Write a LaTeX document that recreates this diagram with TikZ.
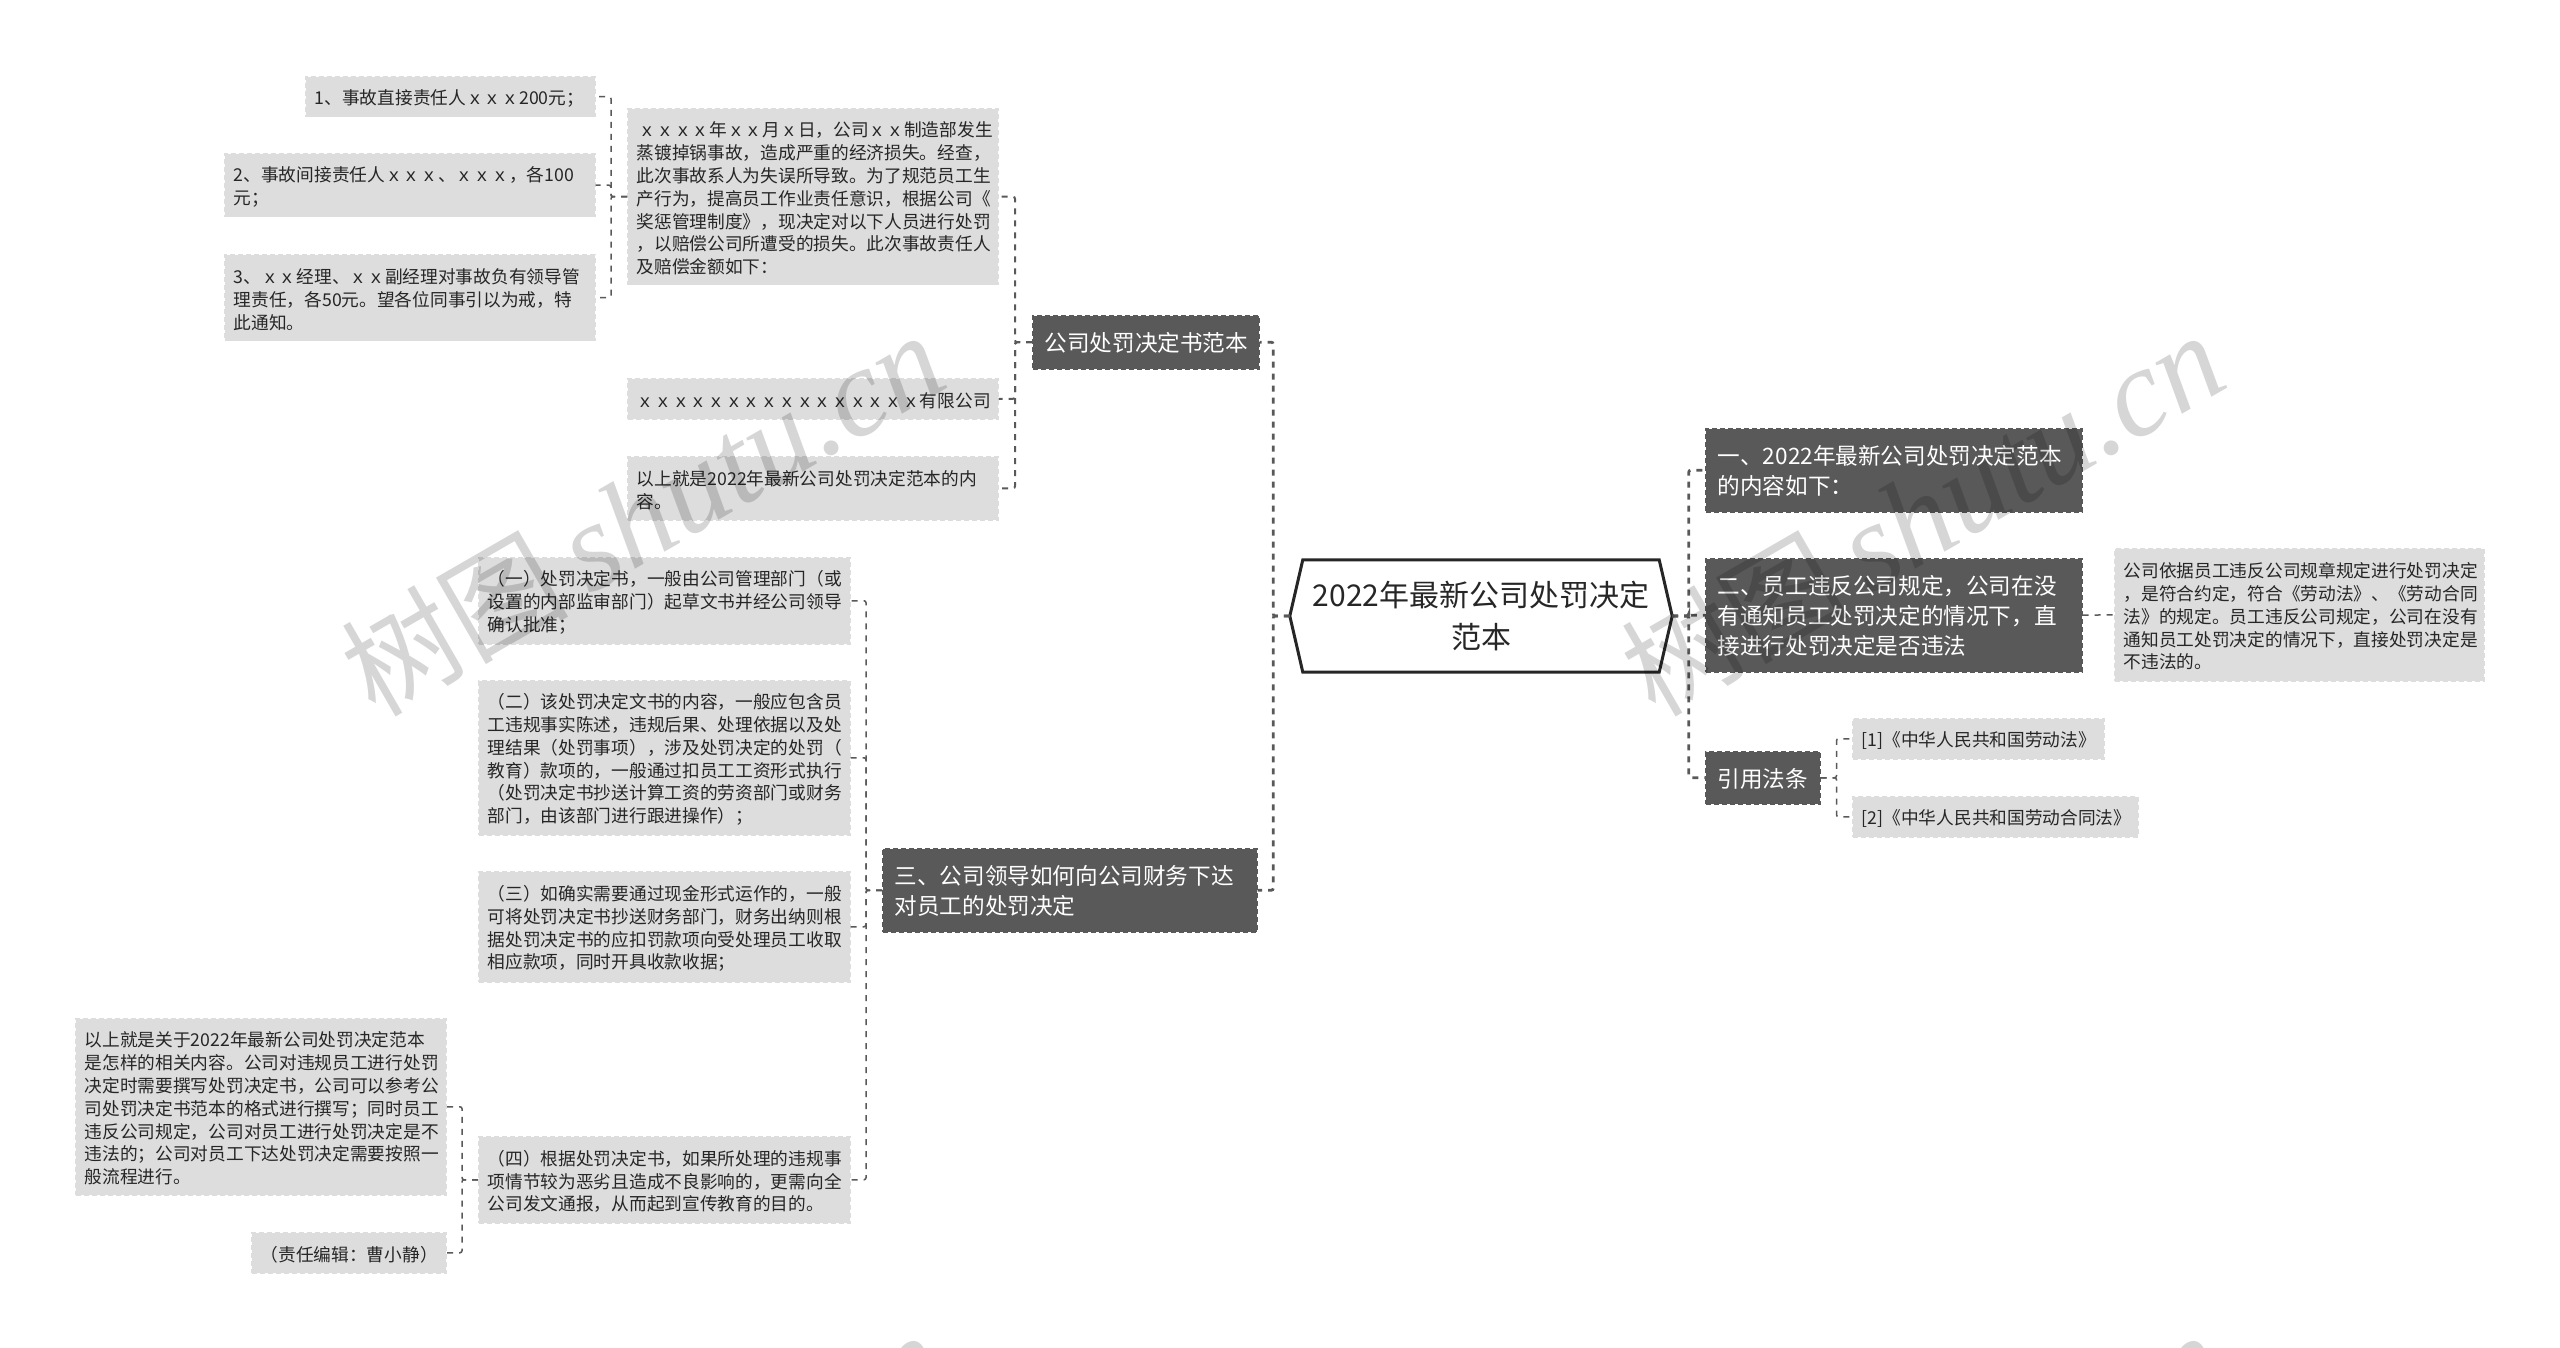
\documentclass[tikz,border=0pt]{standalone}
\usepackage{fontspec}
\setmainfont{Noto Sans CJK SC}
\newfontfamily\markfont{Liberation Serif}

\definecolor{boxdark}{HTML}{595959}
\definecolor{boxlight}{HTML}{DDDDDD}
\definecolor{inkdark}{HTML}{262626}

\tikzset{
    leaf/.style={anchor=north west, fill=boxlight, draw=boxlight, line width=1.5pt, dash pattern=on 5pt off 3pt,
        inner xsep=9pt, inner ysep=0pt, align=left, text=inkdark, font=\fontsize{17.7}{22.8}\selectfont,
        execute at begin node={\rule{0pt}{18.6pt}}},
    head/.style={anchor=north west, fill=boxdark, draw=boxdark, line width=1.5pt, dash pattern=on 5pt off 3pt,
        inner xsep=12pt, inner ysep=0pt, align=left, text=white, font=\fontsize{22.6}{30}\selectfont,
        execute at begin node={\rule{0pt}{21pt}}},
    link/.style={draw=boxdark, line width=1.5pt, dash pattern=on 6pt off 6pt, rounded corners=2pt},
    linkthick/.style={link, line width=2.8pt},
    watermark/.style={anchor=base west, rotate=30, inner sep=0pt, text=black, text opacity=.16}
}

\begin{document}
\begin{tikzpicture}[x=1pt, y=-1pt]

        \useasboundingbox (0,0) rectangle (2560,1348);

        % Wurzel
        \node [minimum width=382pt, minimum height=112pt, inner sep=0pt, align=center, text=inkdark,
            font=\fontsize{30}{41.5}\selectfont] (root) at (1481,616) {2022年最新公司处罚决定\\范本};
        \draw [line width=3pt, draw=inkdark] (root.west) -- ([xshift=13pt]root.north west) -- ([xshift=-13pt]root.north east)
            -- (root.east) -- ([xshift=-13pt]root.south east) -- ([xshift=13pt]root.south west) -- cycle;

        % linke Seite
        \node [head, text width=202pt, minimum height=53pt] (samplehead) at (1032,315) {公司处罚决定书范本};
        \node [head, text width=350pt, minimum height=83pt] (howhead) at (882,848) {三、公司领导如何向公司财务下达\\对员工的处罚决定};

        \node [leaf, text width=352pt, minimum height=176pt] (notice) at (627,108) {\hspace{2pt}ｘｘｘｘ年ｘｘ月ｘ日，公司ｘｘ制造部发生\\蒸镀掉锅事故，造成严重的经济损失。经查，\\此次事故系人为失误所导致。为了规范员工生\\产行为，提高员工作业责任意识，根据公司《\\奖惩管理制度》，现决定对以下人员进行处罚\\，以赔偿公司所遭受的损失。此次事故责任人\\及赔偿金额如下：};
        \node [leaf, text width=352pt, minimum height=40pt] (company) at (627,378) {ｘｘｘｘｘｘｘｘｘｘｘｘｘｘｘｘ有限公司};
        \node [leaf, text width=352pt, minimum height=63pt] (closing) at (627,456) {以上就是2022年最新公司处罚决定范本的内\\容。};

        \node [leaf, text width=271pt, minimum height=40pt] (dutyone) at (305,76) {1、事故直接责任人ｘｘｘ200元；};
        \node [leaf, text width=352pt, minimum height=63pt] (dutytwo) at (224,153) {2、事故间接责任人ｘｘｘ、ｘｘｘ，各100\\元；};
        \node [leaf, text width=352pt, minimum height=86pt] (dutythree) at (224,254) {3、ｘｘ经理、ｘｘ副经理对事故负有领导管\\理责任，各50元。望各位同事引以为戒，特\\此通知。};

        \node [leaf, text width=353pt, minimum height=86pt] (itemone) at (478,557) {（一）处罚决定书，一般由公司管理部门（或\\设置的内部监审部门）起草文书并经公司领导\\确认批准；};
        \node [leaf, text width=353pt, minimum height=154pt] (itemtwo) at (478,680) {（二）该处罚决定文书的内容，一般应包含员\\工违规事实陈述，违规后果、处理依据以及处\\理结果（处罚事项），涉及处罚决定的处罚（\\教育）款项的，一般通过扣员工工资形式执行\\（处罚决定书抄送计算工资的劳资部门或财务\\部门，由该部门进行跟进操作）；};
        \node [leaf, text width=353pt, minimum height=110pt] (itemthree) at (478,871) {（三）如确实需要通过现金形式运作的，一般\\可将处罚决定书抄送财务部门，财务出纳则根\\据处罚决定书的应扣罚款项向受处理员工收取\\相应款项，同时开具收款收据；};
        \node [leaf, text width=353pt, minimum height=86pt] (itemfour) at (478,1136) {（四）根据处罚决定书，如果所处理的违规事\\项情节较为恶劣且造成不良影响的，更需向全\\公司发文通报，从而起到宣传教育的目的。};

        \node [leaf, text width=352pt, minimum height=176pt] (summary) at (75,1018) {以上就是关于2022年最新公司处罚决定范本\\是怎样的相关内容。公司对违规员工进行处罚\\决定时需要撰写处罚决定书，公司可以参考公\\司处罚决定书范本的格式进行撰写；同时员工\\违反公司规定，公司对员工进行处罚决定是不\\违法的；公司对员工下达处罚决定需要按照一\\般流程进行。};
        \node [leaf, text width=176pt, minimum height=40pt] (editor) at (251,1232) {（责任编辑：曹小静）};

        % rechte Seite
        \node [head, text width=352pt, minimum height=83pt] (firsthead) at (1705,428) {一、2022年最新公司处罚决定范本\\的内容如下：};
        \node [head, text width=352pt, minimum height=113pt] (secondhead) at (1705,558) {二、员工违反公司规定，公司在没\\有通知员工处罚决定的情况下，直\\接进行处罚决定是否违法};
        \node [head, text width=90pt, minimum height=52pt] (lawhead) at (1705,751) {引用法条};

        \node [leaf, text width=351pt, minimum height=132pt] (rule) at (2114,548) {公司依据员工违反公司规章规定进行处罚决定\\，是符合约定，符合《劳动法》、《劳动合同\\法》的规定。员工违反公司规定，公司在没有\\通知员工处罚决定的情况下，直接处罚决定是\\不违法的。};
        \node [leaf, text width=233pt, minimum height=40pt] (lawone) at (1852,718) {[1]《中华人民共和国劳动法》};
        \node [leaf, text width=267pt, minimum height=40pt] (lawtwo) at (1852,796) {[2]《中华人民共和国劳动合同法》};

        % Verbindungen nach links
        \foreach \von/\nach in {root/samplehead, root/howhead}
            \draw [linkthick] (\von.west) -- ++(-16.5,0) |- (\nach.east);
        \foreach \von/\nach in {samplehead/notice, samplehead/company, samplehead/closing}
            \draw [link, line width=2pt] (\von.west) -- ++(-17,0) |- (\nach.east);
        \foreach \von/\nach in {notice/dutyone, notice/dutytwo, notice/dutythree, howhead/itemone, howhead/itemtwo, howhead/itemthree, howhead/itemfour, itemfour/summary, itemfour/editor}
            \draw [link] (\von.west) -- ++(-16,0) |- (\nach.east);

        % Verbindungen nach rechts
        \foreach \von/\nach in {root/firsthead, root/secondhead, root/lawhead}
            \draw [linkthick] (\von.east) -- ++(16.5,0) |- (\nach.west);
        \foreach \von/\nach in {lawhead/lawone, lawhead/lawtwo}
            \draw [link] (\von.east) -- ++(16,0) |- (\nach.west);
        \draw [link] (secondhead.east) -- (rule.west);

        % Wasserzeichen
        \foreach \versatzx/\versatzy/\nummer in {0/0/a, 1280/0/b, 0/1000/c, 1280/1000/d}
            \node [watermark] (mark\nummer) at (375+\versatzx,719+\versatzy) {\fontsize{114}{114}\selectfont 树图\,\markfont\itshape\fontsize{125}{125}\selectfont shutu.cn};

\end{tikzpicture}
\end{document}
